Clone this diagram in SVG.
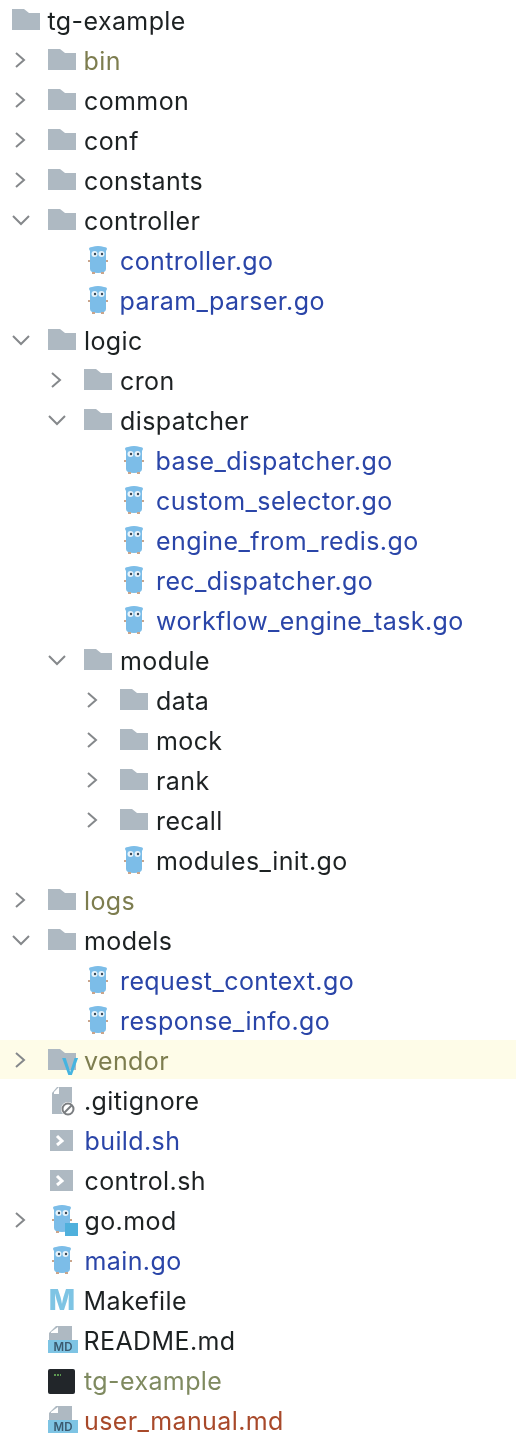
<svg xmlns="http://www.w3.org/2000/svg" width="516" height="1439" viewBox="0 0 516 1439">
<style>
text{font-family:Inter,"Liberation Sans",sans-serif;font-size:25px;letter-spacing:.4px;fill:#1f2124}
.b{fill:#2a45a8}.o{fill:#7d7d4f}.g{fill:#7f8a60}.r{fill:#a8492a}
.c{fill:none;stroke:#85888b;stroke-width:2}
</style>
<defs>
<filter id="soft" x="0" y="0" width="100%" height="100%"><feGaussianBlur stdDeviation="0.45"/></filter>
<g id="folder"><path d="M0-11H12L17-7H28V10H0Z" fill="#aeb9c2"/></g>
<path id="right" class="c" d="M-4-7L4 0L-4 7"/>
<path id="down" class="c" d="M-8-4L0 4L8-4"/>
<g id="gopher">
<path d="M-9-11Q-9-13-6-13Q0-15 6-13Q9-13 9-11L8-9V9Q8 13 0 13Q-8 13-8 9V-9Z" fill="#7bbde8"/>
<circle cx="-3.500" cy="-6" r="3" fill="#e8f3fa"/><circle cx="3.500" cy="-6" r="3" fill="#e8f3fa"/>
<circle cx="-3" cy="-6" r="1.200" fill="#3a4a58"/><circle cx="4" cy="-6" r="1.200" fill="#3a4a58"/>
<path d="M-10 0h2v2h-2zM8 0h2v2h-2zM-6 12h3v2h-3zM3 12h3v2h-3z" fill="#c9a58c"/>
</g>
<g id="doc"><path d="M5-13H20V14H0V-7Z" fill="#aeb9c2"/><path d="M2-8L7-13V-6H2Z" fill="#fff"/></g>
<g id="md"><path d="M8-13H24V1H1V-6Z" fill="#aeb9c2"/><path d="M3-7L10-12V-6H3Z" fill="#fff"/><rect x="0" y="1" width="30" height="13" fill="#7ec4e4"/><text x="15" y="12" text-anchor="middle" style="font-size:11.500px;font-weight:600;letter-spacing:0;fill:#3b5a70">MD</text></g>
<g id="sh"><rect x="0" y="-11" width="23" height="21" fill="#aeb9c2"/><path d="M7-5L12 0L7 4" fill="none" stroke="#fff" stroke-width="3"/></g>
</defs>
<rect x="0" y="1040" width="516" height="39" fill="#fefce8"/>
<g filter="url(#soft)">
<g id="connectors">
<use href="#right" x="20" y="60"/><use href="#right" x="20" y="100"/><use href="#right" x="20" y="140"/><use href="#right" x="20" y="180"/>
<use href="#down" x="21" y="220"/><use href="#down" x="21" y="340"/>
<use href="#right" x="56" y="380"/><use href="#down" x="57" y="420"/><use href="#down" x="57" y="660"/>
<use href="#right" x="92" y="700"/><use href="#right" x="92" y="740"/><use href="#right" x="92" y="780"/><use href="#right" x="92" y="820"/>
<use href="#right" x="20" y="900"/><use href="#down" x="21" y="940"/>
<use href="#right" x="20" y="1060"/><use href="#right" x="20" y="1220"/>
</g>
<g id="n-tg-example"><use href="#folder" x="12" y="20"/><text x="47.500" y="29.500">tg-example</text></g>
<g id="n-bin"><use href="#folder" x="48" y="60"/><text x="83.500" y="69.500" class="o">bin</text></g>
<g id="n-common"><use href="#folder" x="48" y="100"/><text x="84" y="109.500">common</text></g>
<g id="n-conf"><use href="#folder" x="48" y="140"/><text x="84" y="149.500">conf</text></g>
<g id="n-constants"><use href="#folder" x="48" y="180"/><text x="84" y="189.500">constants</text></g>
<g id="n-controller"><use href="#folder" x="48" y="220"/><text x="84" y="229.500">controller</text></g>
<g id="n-controller-go"><use href="#gopher" x="98" y="260"/><text x="120" y="269.500" class="b">controller.go</text></g>
<g id="n-param-parser"><use href="#gopher" x="98" y="300"/><text x="119.500" y="309.500" class="b">param_parser.go</text></g>
<g id="n-logic"><use href="#folder" x="48" y="340"/><text x="84" y="349.500">logic</text></g>
<g id="n-cron"><use href="#folder" x="84" y="380"/><text x="120" y="389.500">cron</text></g>
<g id="n-dispatcher"><use href="#folder" x="84" y="420"/><text x="120" y="429.500">dispatcher</text></g>
<g id="n-base"><use href="#gopher" x="134" y="460"/><text x="155.500" y="469.500" class="b">base_dispatcher.go</text></g>
<g id="n-custom"><use href="#gopher" x="134" y="500"/><text x="156" y="509.500" class="b">custom_selector.go</text></g>
<g id="n-engine"><use href="#gopher" x="134" y="540"/><text x="156" y="549.500" class="b">engine_from_redis.go</text></g>
<g id="n-rec"><use href="#gopher" x="134" y="580"/><text x="156" y="589.500" class="b">rec_dispatcher.go</text></g>
<g id="n-workflow"><use href="#gopher" x="134" y="620"/><text x="156" y="629.500" class="b">workflow_engine_task.go</text></g>
<g id="n-module"><use href="#folder" x="84" y="660"/><text x="120" y="669.500">module</text></g>
<g id="n-data"><use href="#folder" x="120" y="700"/><text x="156" y="709.500">data</text></g>
<g id="n-mock"><use href="#folder" x="120" y="740"/><text x="156" y="749.500">mock</text></g>
<g id="n-rank"><use href="#folder" x="120" y="780"/><text x="156" y="789.500">rank</text></g>
<g id="n-recall"><use href="#folder" x="120" y="820"/><text x="156" y="829.500">recall</text></g>
<g id="n-modules-init"><use href="#gopher" x="134" y="860"/><text x="156" y="869.500">modules_init.go</text></g>
<g id="n-logs"><use href="#folder" x="48" y="900"/><text x="84" y="909.500" class="o">logs</text></g>
<g id="n-models"><use href="#folder" x="48" y="940"/><text x="84" y="949.500">models</text></g>
<g id="n-request"><use href="#gopher" x="98" y="980"/><text x="120" y="989.500" class="b">request_context.go</text></g>
<g id="n-response"><use href="#gopher" x="98" y="1020"/><text x="120" y="1029.500" class="b">response_info.go</text></g>
<g id="n-vendor"><use href="#folder" x="48" y="1060"/><text x="84" y="1069.500" class="o">vendor</text><text x="70" y="1075" text-anchor="middle" style="font-size:30px;font-weight:500;letter-spacing:0;fill:#45b4e0">v</text></g>
<g id="n-gitignore"><use href="#doc" x="52" y="1100"/><circle cx="68" cy="1109" r="7" fill="#fff"/><circle cx="68" cy="1109" r="5.500" fill="none" stroke="#7a7d80" stroke-width="2"/><path d="M64 1113L72 1105" stroke="#7a7d80" stroke-width="2"/><text x="84" y="1109.500">.gitignore</text></g>
<g id="n-build"><use href="#sh" x="50" y="1141"/><text x="84.500" y="1149.500" class="b">build.sh</text></g>
<g id="n-control"><use href="#sh" x="50" y="1181"/><text x="84.500" y="1189.500">control.sh</text></g>
<g id="n-gomod"><use href="#gopher" x="62" y="1219"/><rect x="65" y="1223" width="13" height="13" fill="#4fb0dc"/><text x="84.500" y="1229.500">go.mod</text></g>
<g id="n-main"><use href="#gopher" x="62" y="1260"/><text x="84.500" y="1269.500" class="b">main.go</text></g>
<g id="n-makefile"><text x="62" y="1310" text-anchor="middle" style="font-size:28px;font-weight:800;letter-spacing:0;fill:#7ec4e4">M</text><text x="83.500" y="1309.500">Makefile</text></g>
<g id="n-readme"><use href="#md" x="48" y="1339"/><text x="83.500" y="1349.500">README.md</text></g>
<g id="n-tg-binary"><rect x="48" y="1369" width="27" height="25" rx="2" fill="#23262a"/><path d="M54 1375h7" stroke="#6fbf5f" stroke-width="1.500" stroke-dasharray="2 1"/><text x="84" y="1389.500" class="g">tg-example</text></g>
<g id="n-manual"><use href="#md" x="48" y="1419"/><text x="84" y="1429.500" class="r">user_manual.md</text></g>
</g>
</svg>
